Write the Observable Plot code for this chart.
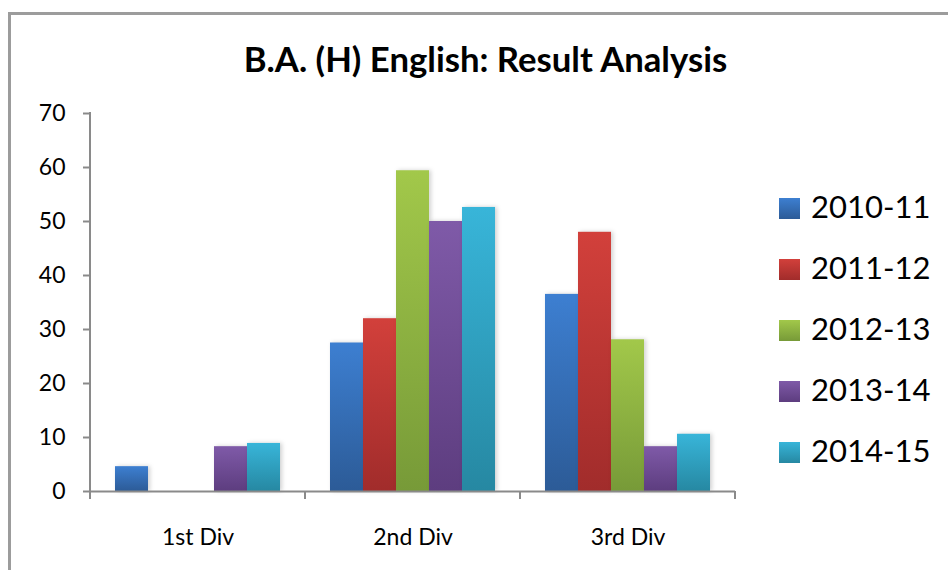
<!DOCTYPE html>
<html>
<head>
<meta charset="utf-8">
<script src="https://cdn.jsdelivr.net/npm/d3@7"></script>
<script src="https://cdn.jsdelivr.net/npm/@observablehq/plot@0.6"></script>
<style>
  html, body { margin: 0; padding: 0; background: #fff; }
  #page { position: relative; width: 948px; height: 570px; overflow: hidden; font-family: Lato, sans-serif; }
  #border { position: absolute; left: 8px; top: 12px; width: 1000px; height: 700px;
            border-left: 3px solid #9c9c9c; border-top: 3px solid #9c9c9c; }
  #title { position: absolute; left: 0; top: 37.7px; width: 971px; text-align: center;
           font: bold 34.7px/1.2 Lato, sans-serif; color: #000; white-space: nowrap; }
  #chart { position: absolute; left: 0; top: 100px; }
  .leg { position: absolute; left: 779px; height: 38px; white-space: nowrap; }
  .leg .sw { position: absolute; left: 0; width: 21px; height: 21px; }
  .leg .lb { position: absolute; left: 32px; top: 0; font: 31px/1.2 Lato, sans-serif; color: #000; }
  .bars rect { filter: drop-shadow(2px 0px 2px rgba(0,0,0,0.18)); }
</style>
</head>
<body>
<div id="page">
  <div id="border"></div>
  <div id="title"></div>
  <div id="chart"></div>
  <div id="legend"></div>
</div>
<script>
// ---- data ----
const titleText = "B.A. (H) English: Result Analysis";
const categories = ["1st Div", "2nd Div", "3rd Div"];
const series = ["2010-11", "2011-12", "2012-13", "2013-14", "2014-15"];
const v2010_11 = [4.6, 27.5, 36.5];
const v2011_12 = [0, 32.0, 48.0];
const v2012_13 = [0, 59.4, 28.1];
const v2013_14 = [8.3, 50.0, 8.3];
const v2014_15 = [8.9, 52.6, 10.6];
const yTicks = [0, 10, 20, 30, 40, 50, 60, 70];
const gradTop = ["#3d7fd1", "#d2403b", "#a2c84a", "#7f5aa8", "#38b5d9"];
const gradBottom = ["#2c5b97", "#a12c2b", "#779a38", "#5d3d7f", "#2688a2"];

const seriesValues = [v2010_11, v2011_12, v2012_13, v2013_14, v2014_15];
const data = [];
series.forEach((s, i) => categories.forEach((c, j) => data.push({category: c, series: s, value: seriesValues[i][j]})));
const gradIds = series.map((s, i) => `grad${i}`);

document.getElementById("title").textContent = titleText;

const chart = Plot.plot({
  width: 948,
  height: 470,
  marginTop: 13,
  marginBottom: 79,
  marginLeft: 90,
  marginRight: 213,
  style: {fontFamily: "Lato, sans-serif", color: "#000", background: "transparent", overflow: "visible"},
  fx: {domain: categories, padding: 0, axis: null, label: null},
  x: {domain: series, paddingInner: 0, paddingOuter: 0.757, align: 0.5, round: false, axis: null},
  y: {domain: [0, 70], axis: null},
  color: {domain: series, range: gradIds.map(id => `url(#${id})`)},
  marks: [
    Plot.barY(data, {fx: "category", x: "series", y: "value", fill: "series", className: "bars"}),
    Plot.ruleY([0], {stroke: "#8a8a8a", strokeWidth: 2}),
    Plot.axisY({ticks: yTicks, tickSize: 7, tickPadding: 18, fontSize: 23, stroke: "#8a8a8a", strokeWidth: 2, label: null, tickFormat: d => String(d)}),
    Plot.axisFx({anchor: "bottom", tickSize: 0, tickPadding: 37, fontSize: 23, label: null})
  ]
});

// gradients
const svgNS = "http://www.w3.org/2000/svg";
const svg = chart.tagName.toLowerCase() === "svg" ? chart : chart.querySelector("svg");
const defs = document.createElementNS(svgNS, "defs");
gradIds.forEach((id, i) => {
  const g = document.createElementNS(svgNS, "linearGradient");
  g.setAttribute("id", id);
  g.setAttribute("x1", "0"); g.setAttribute("y1", "0");
  g.setAttribute("x2", "0"); g.setAttribute("y2", "1");
  [[0, gradTop[i]], [1, gradBottom[i]]].forEach(([o, c]) => {
    const st = document.createElementNS(svgNS, "stop");
    st.setAttribute("offset", o);
    st.setAttribute("stop-color", c);
    g.appendChild(st);
  });
  defs.appendChild(g);
});
svg.insertBefore(defs, svg.firstChild);

// axis line and category boundary ticks from the plot's own scales
const fx = chart.scale("fx");
const ys = chart.scale("y");
const y0 = ys.apply(0), yTop = ys.apply(70);
const bounds = categories.map(c => fx.apply(c)).concat([fx.range[1]]);
const axes = d3.select(svg).append("g").attr("stroke", "#8a8a8a").attr("stroke-width", 2);
axes.append("line").attr("x1", bounds[0]).attr("x2", bounds[0]).attr("y1", yTop - 1).attr("y2", y0 + 8);
bounds.forEach(b => axes.append("line").attr("x1", b).attr("x2", b).attr("y1", y0).attr("y2", y0 + 8));

document.getElementById("chart").appendChild(chart);

// legend
const legend = document.getElementById("legend");
series.forEach((s, i) => {
  const baseline = 219 + i * 61;
  const item = document.createElement("div");
  item.className = "leg";
  item.style.top = (baseline - 30.6) + "px";
  const sw = document.createElement("div");
  sw.className = "sw";
  sw.style.top = (30.6 - 21) + "px";
  sw.style.background = `linear-gradient(${gradTop[i]}, ${gradBottom[i]})`;
  const lb = document.createElement("div");
  lb.className = "lb";
  lb.textContent = s;
  item.appendChild(sw); item.appendChild(lb);
  legend.appendChild(item);
});
</script>
</body>
</html>
